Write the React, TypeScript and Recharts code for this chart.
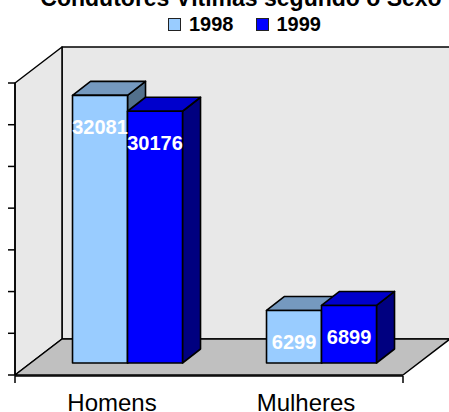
import { Bar, BarChart, LabelList, ReferenceArea, XAxis, YAxis } from "recharts";

const title = "Condutores Vítimas segundo o Sexo";
const categories = ["Homens", "Mulheres"];
const values1998 = [32081, 6299];
const values1999 = [30176, 6899];
const yTicks = [0, 5000, 10000, 15000, 20000, 25000, 30000, 35000];
const edgeTicks = [0, 1, 2];

const data = categories.map((name, i) => ({
  name,
  v1998: values1998[i],
  v1999: values1999[i],
}));

const font = '"Liberation Sans", Arial, sans-serif';

// 3D look: wall depth, bar row position inside the box, bar depth
const WALL = { dx: 47, dy: -36 };
const SHIFT = { dx: 16, dy: -12 };
const DEPTH = { dx: 18, dy: -14 };

const series = [
  { key: "v1998", name: "1998", front: "#99ccff", top: "#7599bf", side: "#52708c" },
  { key: "v1999", name: "1999", front: "#0000ff", top: "#0000cc", side: "#000080" },
];

function Walls({ x, y, width, height }: any) {
  const x1 = x + width;
  const y1 = y + height;
  const bx = x + WALL.dx;
  const by = y + WALL.dy;
  const fy = y1 + WALL.dy;
  return (
    <g stroke="#000" strokeWidth={1.5} strokeLinejoin="round">
      <rect x={bx} y={by} width={width + 10} height={fy - by} fill="#e8e8e8" />
      <polygon points={`${x},${y} ${bx},${by} ${bx},${fy} ${x},${y1}`} fill="#e8e8e8" />
      <polygon
        points={`${x},${y1} ${bx},${fy} ${x1 + WALL.dx},${fy} ${x1},${y1}`}
        fill="#c0c0c0"
      />
    </g>
  );
}

function Box3D(props: any) {
  const { x, y, width, height, cFront, cTop, cSide } = props;
  if (!height) return null;
  const fx = x + SHIFT.dx;
  const fy = y + SHIFT.dy;
  const r = fx + width;
  const b = fy + height;
  return (
    <g stroke="#000" strokeWidth={1.6} strokeLinejoin="round">
      <polygon
        points={`${r},${fy} ${r + DEPTH.dx},${fy + DEPTH.dy} ${r + DEPTH.dx},${b + DEPTH.dy} ${r},${b}`}
        fill={cSide}
      />
      <polygon
        points={`${fx},${fy} ${fx + DEPTH.dx},${fy + DEPTH.dy} ${r + DEPTH.dx},${fy + DEPTH.dy} ${r},${fy}`}
        fill={cTop}
      />
      <rect x={fx} y={fy} width={width} height={height} fill={cFront} />
    </g>
  );
}

function ValueLabel(props: any) {
  const vb = props.viewBox ?? props;
  const { x, y, width } = vb;
  return (
    <text
      x={x + width / 2 + SHIFT.dx}
      y={y + SHIFT.dy + 39}
      textAnchor="middle"
      fill="#fff"
      fontFamily={font}
      fontWeight="bold"
      fontSize={20}
    >
      {props.value}
    </text>
  );
}

export default function App() {
  return (
    <div style={{ position: "absolute", left: 0, top: 0, width: 449, height: 412, background: "#fff" }}>
      <BarChart
        width={449}
        height={412}
        data={data}
        margin={{ top: 83, right: 46, bottom: 35, left: 14 }}
        barCategoryGap="21.4%"
        barGap={0}
      >
        <ReferenceArea y1={0} y2={35000} shape={(p: any) => <Walls {...p} />} />
        <XAxis
          xAxisId="edge"
          type="number"
          domain={[0, 2]}
          ticks={edgeTicks}
          height={1}
          axisLine={{ stroke: "#000", strokeWidth: 1.5 }}
          tickLine={{ stroke: "#000", strokeWidth: 1.5 }}
          tickSize={7}
          tick={() => <g />}
        />
        <XAxis
          dataKey="name"
          height={1}
          interval={0}
          axisLine={false}
          tickLine={false}
          tickSize={0}
          tickMargin={19}
          tick={{ fontSize: 24, fill: "#000", fontFamily: font }}
        />
        <YAxis
          width={1}
          domain={[0, 35000]}
          ticks={yTicks}
          axisLine={{ stroke: "#000", strokeWidth: 1.5 }}
          tickLine={{ stroke: "#000", strokeWidth: 1.5 }}
          tickSize={7}
          tick={() => <g />}
        />
        {series.map((s) => (
          <Bar
            key={s.key}
            dataKey={s.key}
            name={s.name}
            fill={s.front}
            isAnimationActive={false}
            shape={(p: any) => <Box3D {...p} cFront={s.front} cTop={s.top} cSide={s.side} />}
          >
            <LabelList dataKey={s.key} content={<ValueLabel />} />
          </Bar>
        ))}
      </BarChart>

      <svg
        width={449}
        height={20}
        style={{ position: "absolute", left: 0, top: 0, pointerEvents: "none" }}
      >
        <text x={241} y={6} textAnchor="middle" fontFamily={font} fontWeight="bold" fontSize={23}>
          {title}
        </text>
      </svg>
      <div
        style={{
          position: "absolute",
          left: 0,
          top: 13,
          width: 449,
          paddingLeft: 40,
          boxSizing: "border-box",
          display: "flex",
          justifyContent: "center",
          gap: 22,
          fontFamily: font,
          fontWeight: "bold",
          fontSize: 20,
          lineHeight: "22px",
        }}
      >
        {series.map((s) => (
          <div key={s.key} style={{ display: "flex", alignItems: "center", gap: 8 }}>
            <span
              style={{
                display: "inline-block",
                width: 11,
                height: 11,
                border: "1.5px solid #222",
                background: s.front,
              }}
            />
            {s.name}
          </div>
        ))}
      </div>
    </div>
  );
}
